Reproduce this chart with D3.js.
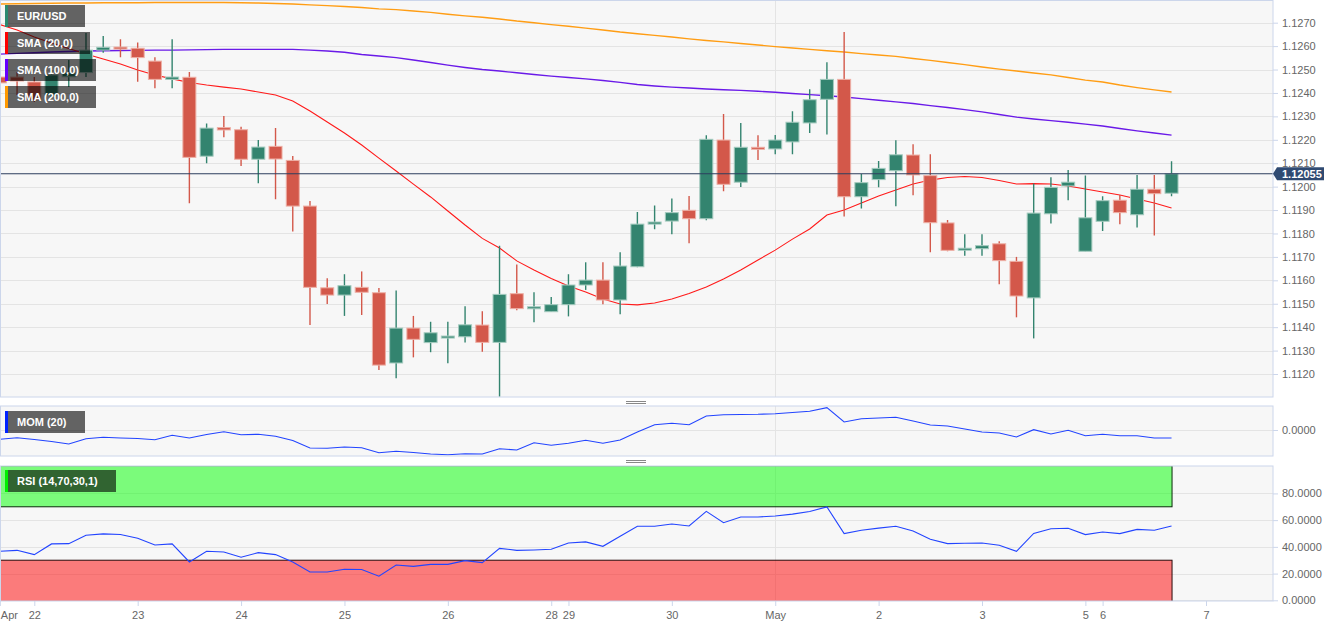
<!DOCTYPE html>
<html><head><meta charset="utf-8">
<script src="https://cdn.jsdelivr.net/npm/d3@7"></script>
<style>html,body{margin:0;padding:0;background:#fff;} svg{display:block;font-family:'Liberation Sans',Arial,sans-serif;}</style>
</head><body><svg id="c" width="1344" height="627"></svg>
<script>
// ---- data (4h candles, index 0 = Apr 22 00:00) ----
const firstIndex = -2;
const open = [1.12468,1.12468,1.12447,1.12391,1.12469,1.12487,1.12583,1.12596,1.12591,1.12536,1.12458,1.12467,1.12130,1.12252,1.12243,1.12117,1.12172,1.12112,1.11917,1.11568,1.11537,1.11570,1.11547,1.11247,1.11396,1.11334,1.11355,1.11359,1.11409,1.11335,1.11543,1.11481,1.11466,1.11496,1.11580,1.11601,1.11516,1.11658,1.11840,1.11853,1.11899,1.11863,1.12199,1.12019,1.12168,1.12161,1.12191,1.12272,1.12373,1.12458,1.11957,1.12030,1.12068,1.12135,1.12047,1.11845,1.11731,1.11735,1.11756,1.11681,1.11525,1.11884,1.12003,1.11724,1.11852,1.11942,1.11880,1.11989,1.11972];
const high = [1.12498,1.12490,1.12468,1.12498,1.12541,1.12656,1.12643,1.12629,1.12615,1.12552,1.12629,1.12490,1.12270,1.12302,1.12256,1.12199,1.12250,1.12131,1.11939,1.11609,1.11626,1.11638,1.11567,1.11557,1.11448,1.11423,1.11423,1.11489,1.11468,1.11748,1.11668,1.11549,1.11529,1.11626,1.11677,1.11677,1.11720,1.11892,1.11920,1.11949,1.11960,1.12219,1.12310,1.12272,1.12219,1.12220,1.12322,1.12416,1.12531,1.12660,1.12054,1.12109,1.12198,1.12181,1.12138,1.11858,1.11797,1.11797,1.11767,1.11700,1.12013,1.12040,1.12071,1.12048,1.11959,1.11964,1.12050,1.12050,1.12108];
const low = [1.12250,1.12391,1.12361,1.12383,1.12425,1.12468,1.12572,1.12552,1.12448,1.12420,1.12420,1.11929,1.12100,1.12211,1.12088,1.12014,1.11946,1.11808,1.11409,1.11499,1.11448,1.11452,1.11217,1.11182,1.11271,1.11293,1.11246,1.11335,1.11295,1.11103,1.11472,1.11421,1.11466,1.11446,1.11559,1.11498,1.11455,1.11656,1.11818,1.11797,1.11758,1.11856,1.11980,1.11998,1.12114,1.12138,1.12138,1.12229,1.12223,1.11873,1.11907,1.11997,1.11916,1.11963,1.11720,1.11724,1.11705,1.11705,1.11583,1.11442,1.11352,1.11843,1.11942,1.11724,1.11811,1.11839,1.11826,1.11791,1.11959];
const close = [1.12443,1.12451,1.12370,1.12477,1.12487,1.12583,1.12595,1.12588,1.12551,1.12458,1.12468,1.12125,1.12250,1.12242,1.12117,1.12169,1.12118,1.11917,1.11570,1.11537,1.11577,1.11549,1.11238,1.11396,1.11348,1.11376,1.11362,1.11410,1.11335,1.11540,1.11479,1.11487,1.11496,1.11580,1.11601,1.11516,1.11661,1.11840,1.11849,1.11889,1.11863,1.12202,1.12010,1.12168,1.12162,1.12199,1.12275,1.12371,1.12458,1.11957,1.12017,1.12078,1.12136,1.12050,1.11846,1.11728,1.11737,1.11748,1.11684,1.11533,1.11887,1.11997,1.12019,1.11867,1.11940,1.11889,1.11989,1.11970,1.12055];
const sma20 = [1.12692,1.12669,1.12639,1.12613,1.12590,1.12566,1.12545,1.12524,1.12498,1.12477,1.12460,1.12445,1.12434,1.12425,1.12417,1.12404,1.12391,1.12366,1.12323,1.12276,1.12229,1.12178,1.12122,1.12067,1.12011,1.11956,1.11896,1.11836,1.11779,1.11738,1.11683,1.11644,1.11608,1.11576,1.11550,1.11520,1.11499,1.11495,1.11503,1.11520,1.11544,1.11571,1.11606,1.11644,1.11687,1.11729,1.11776,1.11819,1.11879,1.11900,1.11930,1.11960,1.11986,1.12011,1.12028,1.12039,1.12043,1.12039,1.12026,1.12011,1.12013,1.12011,1.12003,1.11990,1.11977,1.11964,1.11947,1.11930,1.11909];
const sma100 = [1.12566,1.12569,1.12572,1.12575,1.12577,1.12579,1.12580,1.12581,1.12582,1.12583,1.12583,1.12584,1.12585,1.12586,1.12586,1.12586,1.12586,1.12586,1.12583,1.12579,1.12574,1.12564,1.12558,1.12551,1.12541,1.12530,1.12519,1.12509,1.12500,1.12494,1.12486,1.12479,1.12472,1.12466,1.12460,1.12453,1.12445,1.12436,1.12430,1.12425,1.12421,1.12417,1.12414,1.12411,1.12407,1.12403,1.12398,1.12393,1.12388,1.12383,1.12376,1.12369,1.12362,1.12355,1.12346,1.12338,1.12329,1.12319,1.12308,1.12297,1.12289,1.12282,1.12275,1.12267,1.12259,1.12248,1.12238,1.12229,1.12220];
const sma200 = [1.12780,1.12781,1.12782,1.12783,1.12784,1.12784,1.12785,1.12785,1.12785,1.12786,1.12786,1.12786,1.12786,1.12786,1.12785,1.12784,1.12782,1.12780,1.12776,1.12773,1.12769,1.12765,1.12759,1.12756,1.12750,1.12744,1.12736,1.12729,1.12723,1.12716,1.12707,1.12700,1.12692,1.12685,1.12677,1.12669,1.12660,1.12653,1.12646,1.12639,1.12631,1.12624,1.12618,1.12611,1.12605,1.12598,1.12592,1.12586,1.12580,1.12575,1.12568,1.12562,1.12556,1.12547,1.12539,1.12530,1.12521,1.12511,1.12502,1.12494,1.12485,1.12477,1.12466,1.12455,1.12447,1.12434,1.12423,1.12413,1.12404];
const mom = [-0.00465,-0.00385,-0.00475,-0.00575,-0.0070,-0.00435,-0.00365,-0.0040,-0.00425,-0.00485,-0.00265,-0.0040,-0.00225,-0.00085,-0.00235,-0.00215,-0.00315,-0.00525,-0.0090,-0.00915,-0.0085,-0.00885,-0.01135,-0.01065,-0.01125,-0.0120,-0.01235,-0.01185,-0.0120,-0.00935,-0.0100,-0.00635,-0.00765,-0.00665,-0.00515,-0.00665,-0.0050,-0.0010,0.00265,0.00335,0.00265,0.0070,0.00765,0.00775,0.00785,0.00815,0.00875,0.00935,0.01115,0.0040,0.00565,0.0060,0.00635,0.0045,0.0025,0.0020,0.0005,-0.0010,-0.0015,-0.0035,0.00015,-0.0020,-0.00015,-0.00285,-0.00215,-0.00285,-0.00285,-0.0040,-0.0040];
const rsi = [36.7,37.4,34.2,42.2,42.4,48.7,49.7,49.2,46.5,41.4,42.2,28.7,36.7,36.2,32.2,35.7,34.2,28.7,21.2,21.2,23.2,23.0,18.0,26.4,25.4,26.9,26.9,29.7,28.2,38.9,37.4,37.7,38.2,42.9,43.7,40.4,47.9,55.4,55.4,57.1,55.6,66.6,58.1,62.4,62.4,63.1,64.5,66.5,69.9,49.9,52.4,54.0,55.4,51.9,45.7,42.4,42.7,42.9,41.2,36.7,50.1,53.6,53.9,49.2,51.1,49.9,53.1,52.4,55.6];
const priceTicks = [1.1120,1.1130,1.1140,1.1150,1.1160,1.1170,1.1180,1.1190,1.1200,1.1210,1.1220,1.1230,1.1240,1.1250,1.1260,1.1270];
const momTicks = [0];
const rsiTicks = [0,20,40,60,80];
const rsiLevels = [70,30];
const dayTickIndex = [-2,0,6,12,18,24,30,31,37,43,49,55,61,62,68];
const dayTickLabels = ["Apr","22","23","24","25","26","28","29","30","May","2","3","5","6","7"];
const monthStartIndex = 43;
const lastPrice = 1.12055;
const legendMain = ["EUR/USD","SMA (20,0)","SMA (100,0)","SMA (200,0)"];
const legendMainColors = ["#2b8a70","#ff0000","#6600ff","#ff9900"];
const momLabel = "MOM (20)";
const rsiLabel = "RSI (14,70,30,1)";

// ---- layout ----
const svg = d3.select("#c");
const W = 1273;
const mainP = {top:0.5, bottom:397};
const momP = {top:406, bottom:456};
const rsiP = {top:466, bottom:601};
const idx = d3.range(firstIndex, firstIndex + close.length);

const x = d3.scaleLinear().domain([0, 68]).range([34.3, 1206]);
const yP = d3.scaleLinear().domain([1.1120, 1.1270]).range([374, 22.7]);
const yM = d3.scaleLinear().domain([-0.013, 0.012]).range([456, 406]);
const yR = d3.scaleLinear().domain([0, 100]).range([600.3, 466.7]);

const defs = svg.append("defs");
function panel(name, p){
  defs.append("clipPath").attr("id","clip-"+name).append("rect")
    .attr("x",0).attr("y",p.top).attr("width",W).attr("height",p.bottom-p.top);
  svg.append("rect").attr("x",0.5).attr("y",p.top).attr("width",W-0.5).attr("height",p.bottom-p.top)
    .attr("fill","#f7f7f7");
  return svg.append("g").attr("clip-path","url(#clip-"+name+")");
}
const gMain = panel("main", mainP);
const gMom = panel("mom", momP);
const gRsi = panel("rsi", rsiP);

const grid = "#e4e4e4";
// grids
gMain.selectAll(".hg").data(priceTicks).join("line")
  .attr("x1",0).attr("x2",W).attr("y1",d=>Math.round(yP(d))+0.5).attr("y2",d=>Math.round(yP(d))+0.5)
  .attr("stroke",grid);
gMom.selectAll(".hg").data(momTicks).join("line")
  .attr("x1",0).attr("x2",W).attr("y1",d=>Math.round(yM(d))+0.5).attr("y2",d=>Math.round(yM(d))+0.5)
  .attr("stroke",grid);
gRsi.selectAll(".hg").data(rsiTicks).join("line")
  .attr("x1",0).attr("x2",W).attr("y1",d=>Math.round(yR(d))+0.5).attr("y2",d=>Math.round(yR(d))+0.5)
  .attr("stroke",grid);
[[gMain,mainP],[gMom,momP],[gRsi,rsiP]].forEach(([g,p])=>{
  g.append("line").attr("x1",Math.round(x(monthStartIndex))+0.5).attr("x2",Math.round(x(monthStartIndex))+0.5)
   .attr("y1",p.top).attr("y2",p.bottom).attr("stroke",grid);
});

// SMA lines
const lineP = arr => d3.line().x((d,i)=>x(idx[i])).y(d=>yP(d))(arr);
gMain.append("path").attr("d",lineP(sma200)).attr("fill","none").attr("stroke","#ff9d14").attr("stroke-width",1.4);
gMain.append("path").attr("d",lineP(sma100)).attr("fill","none").attr("stroke","#6a1ae8").attr("stroke-width",1.4);
gMain.append("path").attr("d",lineP(sma20)).attr("fill","none").attr("stroke","#ff1a1a").attr("stroke-width",1.1);

// candles
const up = "#33846f", dn = "#d3584a";
const upS = "#a4cbbf", dnS = "#eeb0a6";
const cdata = idx.map((k,i)=>({k,o:open[i],h:high[i],l:low[i],c:close[i]}));
const cg = gMain.append("g");
cg.selectAll(".wick").data(cdata).join("line")
  .attr("x1",d=>x(d.k)).attr("x2",d=>x(d.k)).attr("y1",d=>yP(d.h)).attr("y2",d=>yP(d.l))
  .attr("stroke",d=>d.c>=d.o?up:dn).attr("stroke-width",1.4);
cg.selectAll(".body").data(cdata).join("rect")
  .attr("x",d=>x(d.k)-6.5).attr("width",13)
  .attr("y",d=>yP(Math.max(d.o,d.c)))
  .attr("height",d=>Math.max(2, yP(Math.min(d.o,d.c))-yP(Math.max(d.o,d.c))))
  .attr("fill",d=>d.c>=d.o?up:dn)
  .attr("stroke",d=>d.c>=d.o?upS:dnS).attr("stroke-width",1);

// last price line
gMain.append("line").attr("x1",0).attr("x2",W).attr("y1",yP(lastPrice)).attr("y2",yP(lastPrice))
  .attr("stroke","#2c3e5e").attr("stroke-width",1);

// MOM
gMom.append("path").attr("d",d3.line().x((d,i)=>x(idx[i])).y(d=>yM(d))(mom))
  .attr("fill","none").attr("stroke","#2244ff").attr("stroke-width",1.1);

// RSI bands + line
const xEnd = x(idx[idx.length-1]);
gRsi.append("rect").attr("x",-1).attr("y",yR(100)-1).attr("width",xEnd+1.5).attr("height",yR(rsiLevels[0])-yR(100)+1)
  .attr("fill","rgba(0,255,0,0.5)").attr("stroke","#0a2a0a").attr("stroke-width",1);
gRsi.append("rect").attr("x",-1).attr("y",yR(rsiLevels[1])).attr("width",xEnd+1.5).attr("height",yR(0)-yR(rsiLevels[1])+2)
  .attr("fill","rgba(255,0,0,0.5)").attr("stroke","#2a0a0a").attr("stroke-width",1);
gRsi.append("path").attr("d",d3.line().x((d,i)=>x(idx[i])).y(d=>yR(d))(rsi))
  .attr("fill","none").attr("stroke","#2244ff").attr("stroke-width",1.1);

// panel borders
[mainP,momP,rsiP].forEach(p=>{
  svg.append("rect").attr("x",0.5).attr("y",p.top).attr("width",W-0.5).attr("height",p.bottom-p.top)
    .attr("fill","none").attr("stroke","#ccd6eb");
});

// axes
function styleAxis(g){
  g.select(".domain").remove();
  g.selectAll(".tick line").attr("stroke","#ccd6eb");
  g.selectAll(".tick text").attr("fill","#666").attr("font-size",11)
    .attr("font-family","'Liberation Sans',Arial,sans-serif");
}
svg.append("g").attr("transform",`translate(${W},0)`)
  .call(d3.axisRight(yP).tickValues(priceTicks).tickFormat(d3.format(".4f")).tickSize(5).tickPadding(4))
  .call(styleAxis);
svg.append("g").attr("transform",`translate(${W},0)`)
  .call(d3.axisRight(yM).tickValues(momTicks).tickFormat(d3.format(".4f")).tickSize(5).tickPadding(4))
  .call(styleAxis);
svg.append("g").attr("transform",`translate(${W},0)`)
  .call(d3.axisRight(yR).tickValues(rsiTicks).tickFormat(d3.format(".4f")).tickSize(5).tickPadding(4))
  .call(styleAxis);
const xa = svg.append("g").attr("transform",`translate(0,${rsiP.bottom})`)
  .call(d3.axisBottom(x).tickValues(dayTickIndex).tickFormat((d,i)=>dayTickLabels[i]).tickSize(5).tickPadding(5))
  .call(styleAxis);
xa.selectAll(".tick text").filter((d,i)=>i===0).attr("text-anchor","start").attr("x",0.5);

// separators
[401,460].forEach(y=>{
  [0,2].forEach(o=>svg.append("line").attr("x1",626).attr("x2",646).attr("y1",y+o+0.5).attr("y2",y+o+0.5)
    .attr("stroke","#888").attr("stroke-width",1));
});

// last price label
const yl = yP(lastPrice);
svg.append("path")
  .attr("d",`M${W},${yl} L${W+4},${yl-6.5} L${W+51},${yl-6.5} L${W+51},${yl+6.5} L${W+4},${yl+6.5} Z`)
  .attr("fill","#2f4a72");
svg.append("text").attr("x",W+9).attr("y",yl+4).attr("fill","#fff").attr("font-size",11)
  .attr("font-weight","bold").text(d3.format(".5f")(lastPrice));

// legends
function legend(y, w, label, color){
  const g = svg.append("g");
  g.append("rect").attr("x",5).attr("y",y).attr("width",w).attr("height",22).attr("fill","rgba(0,0,0,0.6)");
  g.append("rect").attr("x",5).attr("y",y).attr("width",3).attr("height",22).attr("fill",color);
  g.append("text").attr("x",17).attr("y",y+15).attr("fill","#fff").attr("font-size",11)
    .attr("font-weight","bold").text(label);
}
const mainW = [80,85,91,91];
legendMain.forEach((l,i)=>legend(5+i*27, mainW[i], l, legendMainColors[i]));
legend(411, 80, momLabel, "#0022ff");
legend(470, 111, rsiLabel, "#00ee00");
</script></body></html>
